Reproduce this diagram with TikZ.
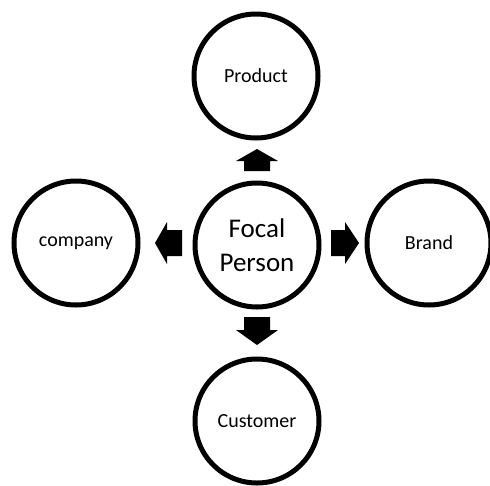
\documentclass[tikz,border=0pt]{standalone}
\usepackage{fontspec}
\setmainfont{Carlito}
\begin{document}
\begin{tikzpicture}[x=1pt,y=-1pt,
  circ/.style={circle, draw=black, line width=5pt, minimum size=124pt, inner sep=0pt,
    font=\fontsize{20}{24}\selectfont},
  bigcirc/.style={circ, align=center, font=\fontsize{27}{34}\selectfont},
  blockarr/.style={fill=black}]
\useasboundingbox (0,0) rectangle (490,485);
\node[bigcirc] (focal) at (257,245) {Focal\\Person};
\node[circ] (product) at (256,76) {Product};
\node[circ] (company) at (76,243) {company};
\node[circ] (brand) at (429,243) {Brand};
\node[circ] (customer) at (257,421) {Customer};
% up arrow
\fill[blockarr] (257,149) -- (278,161) -- (270,161) -- (270,171) -- (244,171) -- (244,161) -- (236,161) -- cycle;
% down arrow
\fill[blockarr] (257,345) -- (278,330) -- (270,330) -- (270,317) -- (244,317) -- (244,330) -- (236,330) -- cycle;
% left arrow
\fill[blockarr] (155,243) -- (167,222) -- (167,230) -- (182,230) -- (182,256) -- (167,256) -- (167,264) -- cycle;
% right arrow
\fill[blockarr] (359,243) -- (345,222) -- (345,230) -- (331,230) -- (331,256) -- (345,256) -- (345,264) -- cycle;
\end{tikzpicture}
\end{document}
